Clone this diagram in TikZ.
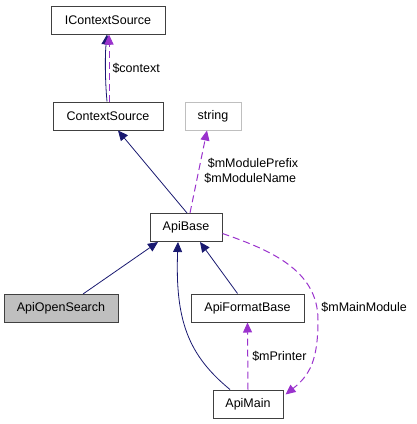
\documentclass[tikz,border=0pt]{standalone}
\usepackage{fontspec}
\setmainfont{Liberation Sans}
\usetikzlibrary{arrows.meta}

\tikzset{
  cls/.style={draw=black!75, line width=1pt, fill=white, inner sep=0pt,
    minimum height=28pt, font=\fontsize{12.5}{15}\selectfont},
  inh/.style={draw={rgb,255:red,25;green,25;blue,112}, line width=0.8pt,
    -{Triangle[length=10pt,width=9pt]}},
  use/.style={draw={rgb,255:red,154;green,50;blue,205}, line width=1pt, dashed,
    dash pattern=on 7pt off 4pt, -{Triangle[length=10pt,width=9pt]}},
  lbl/.style={anchor=west, inner sep=0pt, font=\fontsize{12.5}{15}\selectfont}
}

\begin{document}
\begin{tikzpicture}[x=1pt, y=-1pt, thick]
  \useasboundingbox (0,0) rectangle (416,424);

  \node[cls, minimum width=114pt] (IContextSource) at (108,20) {IContextSource};
  \node[cls, minimum width=110pt] (ContextSource) at (108,116) {ContextSource};
  \node[cls, minimum width=56pt, draw=black!25] (string) at (213,116) {string};
  \node[cls, minimum width=72pt] (ApiBase) at (186,227.5) {ApiBase};
  \node[cls, minimum width=114pt, fill=black!25] (ApiOpenSearch) at (61,308.5) {ApiOpenSearch};
  \node[cls, minimum width=113pt] (ApiFormatBase) at (247.5,308) {ApiFormatBase};
  \node[cls, minimum width=70pt] (ApiMain) at (248,404) {ApiMain};

  \draw[inh] ([xshift=-1pt]ContextSource.north) .. controls (105,80) and (105,55) .. ([xshift=-1pt]IContextSource.south);
  \draw[use] ([xshift=1pt]ContextSource.north) -- ([xshift=1pt]IContextSource.south)
    node[lbl, pos=0.5, xshift=3pt] {\$context};

  \draw[inh] ([xshift=1pt]ApiBase.north) -- ([xshift=10pt]ContextSource.south);
  \draw[use] ([xshift=4pt]ApiBase.north) -- ([xshift=-6pt]string.south);
  \node[lbl, align=left] (strlbl) at (204,171) {\ \$mModulePrefix\\\$mModuleName};

  \draw[inh] ([xshift=22pt]ApiOpenSearch.north) -- ([xshift=-28pt]ApiBase.south);
  \draw[inh] ([xshift=-10pt]ApiFormatBase.north) -- ([xshift=14pt]ApiBase.south);
  \draw[inh] ([xshift=-18pt]ApiMain.north) .. controls (188,355) and (175,320) .. ([xshift=-8pt]ApiBase.south);

  \draw[use] ([yshift=-6pt]ApiBase.east) .. controls (270,250) and (318,270) .. (318,320)
    .. controls (318,360) and (310,375) .. ([xshift=2pt,yshift=-5pt]ApiMain.north east);
  \node[lbl] (mainlbl) at (321,307) {\$mMainModule};

  \draw[use] (ApiMain.north) -- (ApiFormatBase.south)
    node[lbl, pos=0.5, xshift=4pt] {\$mPrinter};
\end{tikzpicture}
\end{document}
